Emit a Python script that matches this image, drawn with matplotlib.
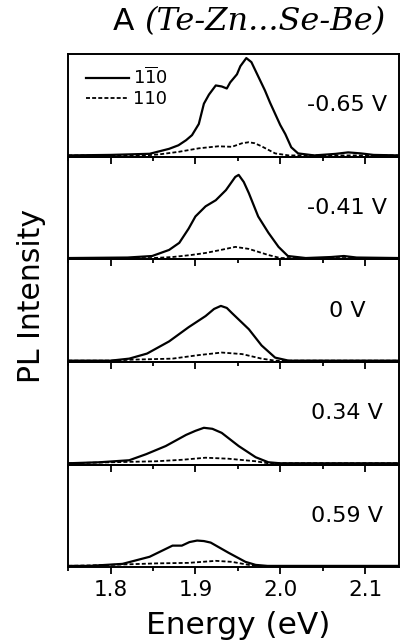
import matplotlib
matplotlib.use("Agg")
import matplotlib.pyplot as plt
from matplotlib.ticker import MultipleLocator
from matplotlib.lines import Line2D

plt.rcParams['font.family'] = ['DejaVu Sans']
plt.rcParams['mathtext.fontset'] = 'dejavusans'

voltages = ['-0.65 V', '-0.41 V', '0 V', '0.34 V', '0.59 V']

# -0.65 V
e_s1 = [1.75, 1.80, 1.846, 1.869, 1.880, 1.889, 1.896, 1.904, 1.910, 1.916, 1.924, 1.931, 1.937,
        1.941, 1.949, 1.953, 1.960, 1.966, 1.974, 1.982, 1.988, 1.994, 2.000, 2.006, 2.013,
        2.021, 2.04, 2.065, 2.08, 2.095, 2.11, 2.14]
i_s1 = [0.0, 0.005, 0.016, 0.065, 0.10, 0.15, 0.20, 0.31, 0.51, 0.60, 0.69, 0.68, 0.66,
        0.72, 0.80, 0.88, 0.96, 0.92, 0.78, 0.64, 0.52, 0.41, 0.30, 0.21, 0.08,
        0.02, 0.0, 0.015, 0.03, 0.02, 0.005, 0.0]
e_d1 = [1.75, 1.84, 1.857, 1.88, 1.904, 1.927, 1.943, 1.955, 1.963, 1.970, 1.978, 1.994,
        2.01, 2.14]
i_d1 = [0.0, 0.0, 0.01, 0.035, 0.07, 0.09, 0.085, 0.12, 0.13, 0.12, 0.09, 0.02,
        0.0, 0.0]

# -0.41 V
e_s2 = [1.75, 1.82, 1.849, 1.869, 1.881, 1.892, 1.900, 1.912, 1.924, 1.936, 1.947, 1.951,
        1.957, 1.963, 1.974, 1.986, 1.998, 2.009, 2.03, 2.06, 2.075, 2.09, 2.14]
i_s2 = [0.0, 0.005, 0.02, 0.08, 0.15, 0.29, 0.41, 0.51, 0.57, 0.67, 0.80, 0.82,
        0.75, 0.64, 0.41, 0.25, 0.11, 0.02, 0.0, 0.01, 0.02, 0.005, 0.0]
e_d2 = [1.75, 1.85, 1.873, 1.895, 1.912, 1.93, 1.947, 1.963, 1.986, 2.0, 2.14]
i_d2 = [0.0, 0.0, 0.01, 0.03, 0.05, 0.08, 0.11, 0.09, 0.03, 0.0, 0.0]

# 0 V
e_s3 = [1.75, 1.80, 1.822, 1.843, 1.869, 1.892, 1.912, 1.922, 1.930, 1.937, 1.943, 1.963,
        1.978, 1.994, 2.01, 2.14]
i_s3 = [0.0, 0.0, 0.02, 0.07, 0.19, 0.33, 0.44, 0.51, 0.54, 0.52, 0.47, 0.31,
        0.15, 0.03, 0.0, 0.0]
e_d3 = [1.75, 1.80, 1.826, 1.873, 1.904, 1.931, 1.955, 1.978, 1.994, 2.14]
i_d3 = [0.0, 0.0, 0.01, 0.02, 0.055, 0.08, 0.065, 0.02, 0.0, 0.0]

# 0.34 V
e_s4 = [1.75, 1.787, 1.822, 1.842, 1.865, 1.889, 1.900, 1.910, 1.920, 1.931, 1.951, 1.971,
        1.986, 2.0, 2.14]
i_s4 = [0.0, 0.01, 0.03, 0.09, 0.17, 0.28, 0.32, 0.35, 0.34, 0.30, 0.17, 0.06,
        0.01, 0.0, 0.0]
e_d4 = [1.75, 1.80, 1.854, 1.885, 1.912, 1.939, 1.971, 1.986, 2.14]
i_d4 = [0.0, 0.01, 0.02, 0.035, 0.055, 0.045, 0.02, 0.0, 0.0]

# 0.59 V
e_s5 = [1.75, 1.775, 1.814, 1.846, 1.873, 1.884, 1.893, 1.902, 1.910, 1.918, 1.939, 1.959,
        1.971, 1.985, 2.14]
i_s5 = [0.0, 0.0, 0.02, 0.09, 0.20, 0.20, 0.235, 0.25, 0.245, 0.23, 0.13, 0.04,
        0.01, 0.0, 0.0]
e_d5 = [1.75, 1.80, 1.854, 1.892, 1.924, 1.943, 1.963, 1.975, 2.14]
i_d5 = [0.0, 0.01, 0.025, 0.03, 0.05, 0.04, 0.01, 0.0, 0.0]

solid = [(e_s1, i_s1), (e_s2, i_s2), (e_s3, i_s3), (e_s4, i_s4), (e_s5, i_s5)]
dashed = [(e_d1, i_d1), (e_d2, i_d2), (e_d3, i_d3), (e_d4, i_d4), (e_d5, i_d5)]

fig, axes = plt.subplots(5, 1, sharex=True, figsize=(4.01, 6.43), dpi=100,
                         gridspec_kw=dict(hspace=0))
fig.subplots_adjust(left=0.17, right=0.995, top=0.916, bottom=0.118)

for k, ax in enumerate(axes):
    ax.plot(*solid[k], color='black', lw=1.6)
    ax.plot(*dashed[k], color='black', lw=1.3, dashes=(2.2, 1.2))
    ax.set_xlim(1.75, 2.14)
    ax.set_ylim(-0.012, 1.0)
    ax.set_yticks([])
    ax.set_facecolor('none')
    ax.xaxis.set_major_locator(MultipleLocator(0.1))
    ax.xaxis.set_minor_locator(MultipleLocator(0.05))
    ax.tick_params(which='major', direction='out', length=5, width=1.3, labelsize=15.5, pad=4)
    ax.tick_params(which='minor', direction='out', length=3, width=1.3)
    for sp in ax.spines.values():
        sp.set_linewidth(1.4)
    ax.text(0.843, 0.5, voltages[k], transform=ax.transAxes, ha='center', va='center',
            fontsize=16)

handles = [Line2D([], [], color='black', lw=1.6),
           Line2D([], [], color='black', lw=1.3, dashes=(2.2, 1.2))]
axes[0].legend(handles, [r'$1\overline{1}0$', '110'], loc='upper left', frameon=False,
               fontsize=13, handlelength=2.4, handletextpad=0.2, labelspacing=0.1,
               borderaxespad=0.3, bbox_to_anchor=(0.015, 1.0))

t1 = fig.text(113 / 401, 1 - 30 / 643, 'A', fontsize=22.5, va='baseline', ha='left')
fig.canvas.draw()
bb = t1.get_window_extent()
fig.text((bb.x1 + 10) / 401, 1 - 30 / 643, '(Te-Zn...Se-Be)', family='DejaVu Serif',
         style='italic', fontsize=23, va='baseline', ha='left')

fig.text(32 / 401, 1 - 296 / 643, 'PL Intensity', rotation=90, ha='center', va='center',
         fontsize=21.5)
fig.text(238 / 401, 9 / 643, 'Energy (eV)', ha='center', va='baseline', fontsize=22.5)

fig.savefig('out.png', dpi=100)
